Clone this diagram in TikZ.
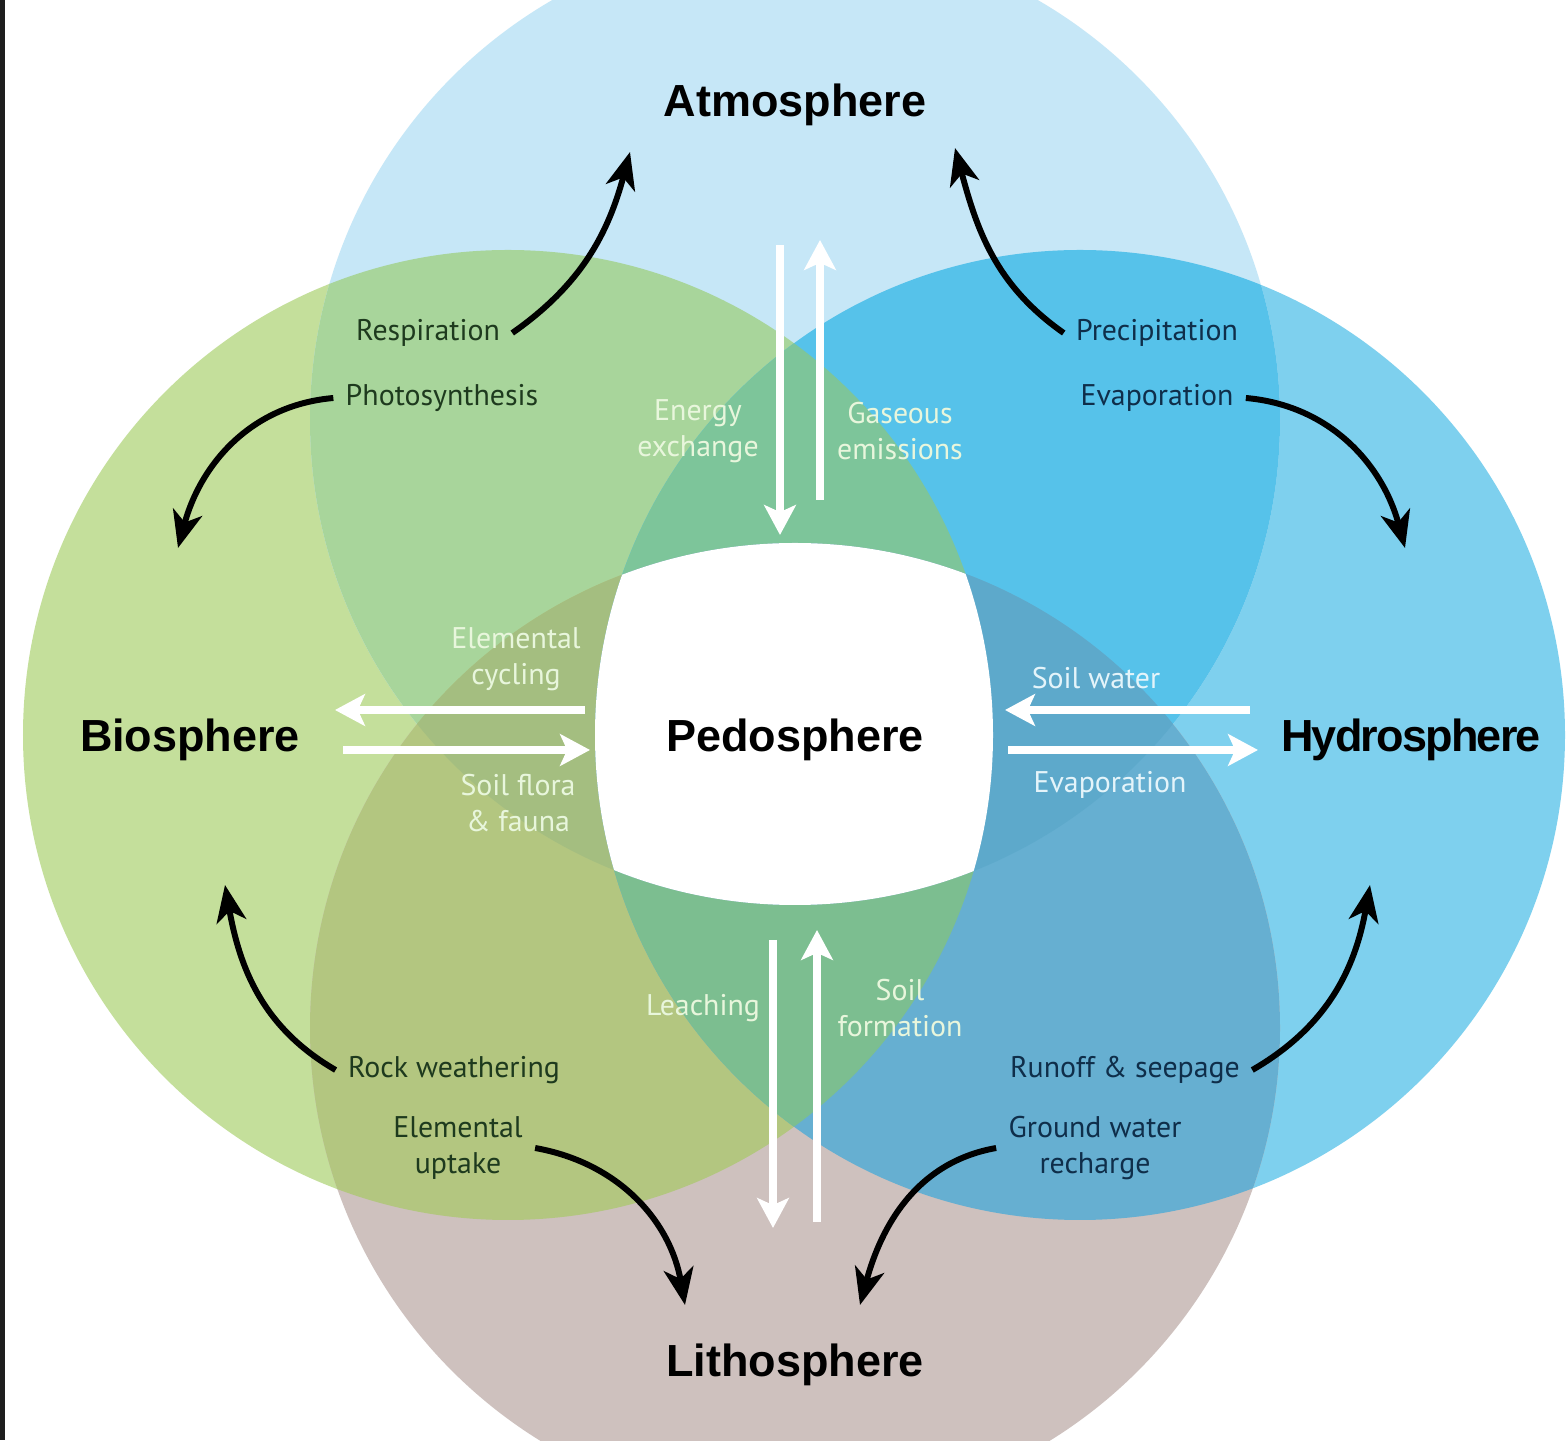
\documentclass[tikz,border=0pt]{standalone}
\usepackage{fontspec}
\setmainfont{PT Sans}
\newfontfamily\headfont{Liberation Sans}
\usetikzlibrary{arrows.meta}

\definecolor{bioc}{HTML}{C4DF9B}
\definecolor{atmc}{HTML}{C6E7F7}
\definecolor{hydc}{HTML}{7ED0EE}
\definecolor{litc}{HTML}{CEC1BE}
\definecolor{bioatm}{HTML}{A8D59B}
\definecolor{hydatm}{HTML}{56C2EA}
\definecolor{biolit}{HTML}{B3C680}
\definecolor{hydlit}{HTML}{66AFD1}
\definecolor{topmix}{HTML}{7DC59A}
\definecolor{botmix}{HTML}{7CBE90}
\definecolor{leftmix}{HTML}{A4BE80}
\definecolor{rightmix}{HTML}{5DA9CB}
\definecolor{greentxt}{HTML}{1E3A1E}
\definecolor{bluetxt}{HTML}{0F2E4A}
\definecolor{paletxt}{HTML}{E8F6DC}
\definecolor{palebtxt}{HTML}{E4F4FA}
\definecolor{framec}{HTML}{1E1E1E}
\newcommand\sphr{4.85}

\tikzset{
  sphere/.style={font=\headfont\bfseries\fontsize{12.8}{15}\selectfont},
  tightsphere/.style={font=\headfont\bfseries\fontsize{12.8}{15}\selectfont\addfontfeature{LetterSpace=-4}},
  lbl/.style={font=\fontsize{8.5}{10.2}\selectfont, align=center},
  greenlbl/.style={lbl, text=greentxt},
  bluelbl/.style={lbl, text=bluetxt},
  palelbl/.style={lbl, text=paletxt},
  palebluelbl/.style={lbl, text=palebtxt},
  cyclearrow/.style={-{Stealth[length=10.5pt,width=8.5pt,inset=3pt]}, line width=1.7pt, black},
  flowarrow/.style={-{Stealth[length=8.5pt,width=9pt,inset=2pt]}, line width=2pt, white}
}

\begin{document}
\begin{tikzpicture}
\clip (0,0) rectangle (15.67,14.40);
\fill[white] (0,0) rectangle (15.67,14.40);
\coordinate (cbio) at (5.08,7.05);
\coordinate (chyd) at (10.80,7.05);
\coordinate (catm) at (7.95,10.20);
\coordinate (clit) at (7.95,4.12);

% the four spheres
\fill[bioc] (cbio) circle (\sphr);
\fill[hydc] (chyd) circle (\sphr);
\fill[atmc] (catm) circle (\sphr);
\fill[litc] (clit) circle (\sphr);
% overlaps of two
\begin{scope}
\clip (cbio) circle (\sphr);
\fill[bioatm] (catm) circle (\sphr);
\fill[biolit] (clit) circle (\sphr);
\end{scope}
\begin{scope}
\clip (chyd) circle (\sphr);
\fill[hydatm] (catm) circle (\sphr);
\fill[hydlit] (clit) circle (\sphr);
\end{scope}
% overlaps of three
\begin{scope}
\clip (cbio) circle (\sphr);
\clip (chyd) circle (\sphr);
\fill[topmix] (catm) circle (\sphr);
\fill[botmix] (clit) circle (\sphr);
\end{scope}
\begin{scope}
\clip (catm) circle (\sphr);
\clip (clit) circle (\sphr);
\fill[leftmix] (cbio) circle (\sphr);
\fill[rightmix] (chyd) circle (\sphr);
\end{scope}
% pedosphere in the middle
\begin{scope}
\clip (cbio) circle (\sphr);
\clip (chyd) circle (\sphr);
\clip (catm) circle (\sphr);
\fill[white] (clit) circle (\sphr);
\end{scope}
\fill[framec] (0,0) rectangle (0.05,14.40);

\node[sphere] (atm) at (7.95,13.35) {Atmosphere};
\node[sphere] (bio) at (1.90,7.00) {Biosphere};
\node[sphere] (ped) at (7.95,7.00) {Pedosphere};
\node[tightsphere] (hyd) at (14.11,7.00) {Hydrosphere};
\node[sphere] (lit) at (7.95,0.75) {Lithosphere};

\node[greenlbl] (resp) at (4.28,11.07) {Respiration};
\node[greenlbl] (photo) at (4.42,10.42) {Photosynthesis};
\node[bluelbl] (precip) at (11.57,11.07) {Precipitation};
\node[bluelbl] (evapup) at (11.57,10.42) {Evaporation};
\node[greenlbl] (rock) at (4.54,3.70) {Rock weathering};
\node[greenlbl] (uptake) at (4.58,2.92) {Elemental\\uptake};
\node[bluelbl] (runoff) at (11.25,3.70) {Runoff \& seepage};
\node[bluelbl] (recharge) at (10.95,2.92) {Ground water\\recharge};
\node[palelbl] (energy) at (6.98,10.09) {Energy\\exchange};
\node[palelbl] (gas) at (9.00,10.09) {Gaseous\\emissions};
\node[palelbl] (cycling) at (5.16,7.81) {Elemental\\cycling};
\node[palelbl] (flora) at (5.18,6.37) {Soil flora\\\& fauna};
\node[palebluelbl] (soilw) at (10.96,7.62) {Soil water};
\node[palebluelbl] (evapdn) at (11.10,6.55) {Evaporation};
\node[palelbl] (leach) at (7.03,4.32) {Leaching};
\node[palelbl] (form) at (9.00,4.32) {Soil\\formation};

% curved exchange arrows
\coordinate (respend) at (6.30,12.88);
\coordinate (photoend) at (1.78,8.92);
\coordinate (precipend) at (9.55,12.92);
\coordinate (evapend) at (14.05,8.92);
\coordinate (rockend) at (2.25,5.55);
\coordinate (uptakeend) at (6.85,1.35);
\coordinate (runoffend) at (13.70,5.55);
\coordinate (rechargeend) at (8.60,1.35);
\draw[cyclearrow] (resp.east) to[out=35,in=-105] (respend);
\draw[cyclearrow] (photo.west) to[out=185,in=75] (photoend);
\draw[cyclearrow] (precip.west) to[out=145,in=-75] (precipend);
\draw[cyclearrow] (evapup.east) to[out=-5,in=105] (evapend);
\draw[cyclearrow] (rock.west) to[out=150,in=-80] (rockend);
\draw[cyclearrow] (uptake.east) to[out=-10,in=100] (uptakeend);
\draw[cyclearrow] (runoff.east) to[out=30,in=-100] (runoffend);
\draw[cyclearrow] (recharge.west) to[out=190,in=75] (rechargeend);

% straight arrows to and from the pedosphere
\coordinate (energytop) at (7.80,11.95);
\coordinate (energybot) at (7.80,9.05);
\coordinate (gasbot) at (8.20,9.40);
\coordinate (gastop) at (8.20,12.00);
\coordinate (leachtop) at (7.73,5.00);
\coordinate (leachbot) at (7.73,2.12);
\coordinate (formbot) at (8.17,2.18);
\coordinate (formtop) at (8.17,5.10);
\coordinate (cycright) at (5.85,7.30);
\coordinate (cycleft) at (3.35,7.30);
\coordinate (floraleft) at (3.43,6.90);
\coordinate (floraright) at (5.90,6.90);
\coordinate (soilwright) at (12.50,7.30);
\coordinate (soilwleft) at (10.05,7.30);
\coordinate (evapleft) at (10.08,6.90);
\coordinate (evapright) at (12.58,6.90);
\draw[flowarrow] (energytop) -- (energybot);
\draw[flowarrow] (gasbot) -- (gastop);
\draw[flowarrow] (leachtop) -- (leachbot);
\draw[flowarrow] (formbot) -- (formtop);
\draw[flowarrow] (cycright) -- (cycleft);
\draw[flowarrow] (floraleft) -- (floraright);
\draw[flowarrow] (soilwright) -- (soilwleft);
\draw[flowarrow] (evapleft) -- (evapright);
\end{tikzpicture}
\end{document}
